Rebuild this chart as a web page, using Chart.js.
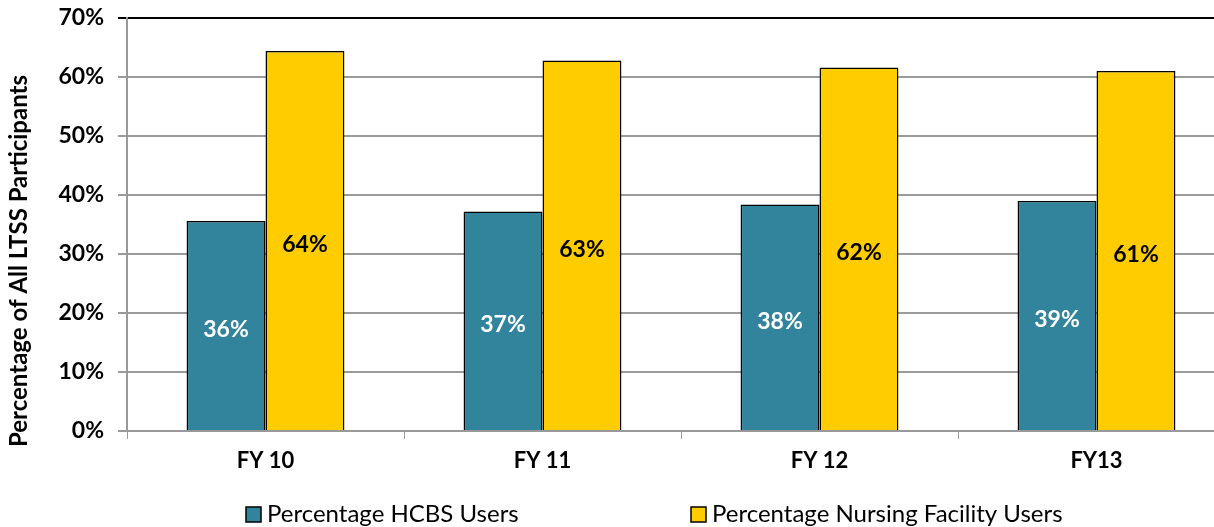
<!DOCTYPE html>
<html>
<head>
<meta charset="utf-8">
<script src="https://cdn.jsdelivr.net/npm/chart.js@4.4.1/dist/chart.umd.min.js"></script>
<style>
    body { margin: 0; background: #fff; overflow: hidden; }
    #clip { width: 1214px; height: 527px; overflow: hidden; }
    /* plot runs past the right edge, as in the source image */
    #wrap { width: 1236px; height: 527px; position: relative; }
</style>
</head>
<body>
<div id="clip"><div id="wrap"><canvas id="chart"></canvas></div></div>
<script>
const categories = ["FY 10", "FY 11", "FY 12", "FY13"];
const hcbsValues = [35.6, 37.2, 38.4, 39.0];
const nursingValues = [64.4, 62.8, 61.6, 61.0];
const seriesNames = ["Percentage HCBS Users", "Percentage Nursing Facility Users"];
const yTicks = [0, 10, 20, 30, 40, 50, 60, 70];
const yTitle = "Percentage of All LTSS Participants";

const FONT = "Lato, 'Open Sans', sans-serif";

// value labels in the middle of each bar
const barLabels = {
    id: "barLabels",
    afterDatasetsDraw(chart) {
        const ctx = chart.ctx;
        ctx.save();
        ctx.font = "bold 23px " + FONT;
        ctx.textAlign = "center";
        ctx.textBaseline = "middle";
        chart.data.datasets.forEach(function (ds, i) {
            chart.getDatasetMeta(i).data.forEach(function (bar, j) {
                ctx.fillStyle = i === 0 ? "#ffffff" : "#000000";
                const mid = (bar.y + bar.base) / 2;
                ctx.fillText(Math.round(ds.data[j]) + "%", bar.x, mid + 4);
            });
        });
        ctx.restore();
    }
};

// legend + axis title drawn by hand (wide legend gap, title centred on the whole figure)
const extras = {
    id: "extras",
    afterDraw(chart) {
        const ctx = chart.ctx;
        ctx.save();
        ctx.font = "24px " + FONT;
        ctx.textBaseline = "middle";
        const starts = [246, 691];
        const y = 514;
        chart.data.datasets.forEach(function (ds, i) {
            const x = starts[i];
            ctx.fillStyle = ds.backgroundColor;
            ctx.fillRect(x, y - 7, 15, 15);
            ctx.lineWidth = 1.5;
            ctx.strokeStyle = "#000";
            ctx.strokeRect(x, y - 7, 15, 15);
            ctx.fillStyle = "#000";
            ctx.fillText(ds.label, x + 21, y);
        });

        ctx.translate(19, 261);
        ctx.rotate(-Math.PI / 2);
        ctx.textAlign = "center";
        ctx.font = "bold 24px " + FONT;
        ctx.fillText(yTitle, 0, 0);
        ctx.restore();
    }
};

new Chart(document.getElementById("chart").getContext("2d"), {
    type: "bar",
    data: {
        labels: categories,
        datasets: [
            {
                label: seriesNames[0],
                data: hcbsValues,
                backgroundColor: "#31849b",
                borderColor: "#000",
                borderWidth: 1.5
            },
            {
                label: seriesNames[1],
                data: nursingValues,
                backgroundColor: "#ffcc00",
                borderColor: "#000",
                borderWidth: 1.5
            }
        ]
    },
    options: {
        responsive: true,
        maintainAspectRatio: false,
        animation: false,
        layout: {
            padding: { top: 18, right: 1, bottom: 50, left: 4 }
        },
        datasets: {
            bar: {
                categoryPercentage: 0.57,
                barPercentage: 1.0
            }
        },
        plugins: {
            legend: { display: false },
            tooltip: { enabled: false }
        },
        scales: {
            x: {
                grid: {
                    offset: true,
                    drawOnChartArea: false,
                    drawTicks: true,
                    tickLength: 8,
                    color: "#999"
                },
                border: { color: "#999", width: 2 },
                ticks: {
                    color: "#000",
                    font: { family: FONT, size: 22, weight: "bold" },
                    padding: 9
                },
                afterFit(scale) {
                    scale.height = 46;
                }
            },
            y: {
                min: 0,
                max: 70,
                afterBuildTicks(scale) {
                    scale.ticks = yTicks.map(v => ({ value: v }));
                },
                grid: {
                    color: ctx => (ctx.tick && ctx.tick.value === 70 ? "#000" : "#9a9a9a"),
                    lineWidth: 2,
                    tickLength: 9
                },
                border: { color: "#999", width: 2 },
                ticks: {
                    color: "#000",
                    font: { family: FONT, size: 23, weight: "bold" },
                    padding: 14,
                    callback: v => v + "%"
                },
                afterFit(scale) {
                    scale.width = 123;
                    scale.paddingTop = 0;
                    scale.paddingBottom = 0;
                }
            }
        }
    },
    plugins: [barLabels, extras]
});
</script>
</body>
</html>
